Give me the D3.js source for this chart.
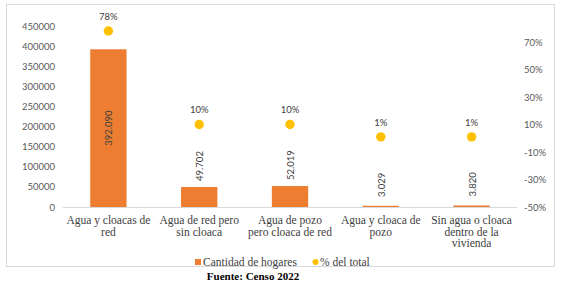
<!DOCTYPE html>
<html lang="es">
<head>
<meta charset="UTF-8">
<script src="https://d3js.org/d3.v7.min.js"></script>
<style>
  body { margin: 0; background: #fff; }
  svg { display: block; }
  .serif { font-family: "Liberation Serif", "Times New Roman", "DejaVu Serif", serif; }
</style>
</head>
<body>
<div id="chart"></div>
<script>
// data
const categories = [
  ["Agua y cloacas de", "red"],
  ["Agua de red pero", "sin cloaca"],
  ["Agua de pozo", "pero cloaca de red"],
  ["Agua y cloaca de", "pozo"],
  ["Sin agua o cloaca", "dentro de la", "vivienda"]
];
const hogares = [392090, 49702, 52019, 3029, 3820];
const hogaresLabels = ["392.090", "49.702", "52.019", "3.029", "3.820"];
const pctTotal = [0.78, 0.10, 0.10, 0.01, 0.01];
const pctLabels = ["78%", "10%", "10%", "1%", "1%"];
const leftTicks = [0, 50000, 100000, 150000, 200000, 250000, 300000, 350000, 400000, 450000];
const rightTicks = [-0.5, -0.3, -0.1, 0.1, 0.3, 0.5, 0.7];

const width = 563, height = 284;
const plot = { left: 63, right: 517, top: 26, bottom: 207 };

const svg = d3.select('#chart').append('svg')
  .attr('width', width).attr('height', height);

// chart border
svg.append('rect')
  .attr('x', 6.5).attr('y', 4.5)
  .attr('width', 548).attr('height', 262)
  .attr('fill', 'none').attr('stroke', '#d9d9d9');

const x = d3.scaleBand()
  .domain(d3.range(categories.length))
  .range([plot.left, plot.right])
  .paddingInner(0.6).paddingOuter(0.3);

const y = d3.scaleLinear().domain([0, 450000]).range([plot.bottom, plot.top]);
const y2 = d3.scaleLinear().domain([-0.5, 0.816]).range([plot.bottom, plot.top]);

const tickFont = 'Lato, "Open Sans", sans-serif';

// left axis
const yAxis = svg.append('g')
  .attr('transform', `translate(${plot.left},0)`)
  .call(d3.axisLeft(y).tickValues(leftTicks).tickSize(0).tickPadding(8).tickFormat(d3.format('d')));
yAxis.select('.domain').remove();
yAxis.selectAll('text').style('font-family', tickFont).style('font-size', '9.5px').attr('fill', '#595959');

// right axis
const y2Axis = svg.append('g')
  .attr('transform', `translate(${plot.right},0)`)
  .call(d3.axisRight(y2).tickValues(rightTicks).tickSize(0).tickPadding(7)
    .tickFormat(d => Math.round(d * 100) + '%'));
y2Axis.select('.domain').remove();
y2Axis.selectAll('text').style('font-family', tickFont).style('font-size', '9.5px').attr('fill', '#595959');

// baseline
svg.append('line')
  .attr('x1', plot.left).attr('x2', plot.right)
  .attr('y1', y(0) + 0.5).attr('y2', y(0) + 0.5)
  .attr('stroke', '#d9d9d9');

// bars
svg.selectAll('rect.bar')
  .data(hogares)
  .join('rect')
  .attr('class', 'bar')
  .attr('x', (d, i) => x(i))
  .attr('y', d => y(d))
  .attr('width', x.bandwidth())
  .attr('height', d => y(0) - y(d))
  .attr('fill', '#ED7D31');

// bar value labels (rotated)
svg.selectAll('text.val')
  .data(hogares)
  .join('text')
  .attr('class', 'val')
  .attr('transform', (d, i) => {
    const cx = x(i) + x.bandwidth() / 2;
    const cy = i === 0 ? (y(d) + y(0)) / 2 : y(d) - 21;
    return `translate(${cx + 4},${cy}) rotate(-90)`;
  })
  .attr('text-anchor', 'middle')
  .style('font-family', tickFont).style('font-size', '9.5px')
  .attr('fill', '#404040')
  .text((d, i) => hogaresLabels[i]);

// percent dots
svg.selectAll('circle.pct')
  .data(pctTotal)
  .join('circle')
  .attr('class', 'pct')
  .attr('cx', (d, i) => x(i) + x.bandwidth() / 2)
  .attr('cy', d => y2(d))
  .attr('r', 4.7)
  .attr('fill', '#FFC000');

svg.selectAll('text.pctl')
  .data(pctTotal)
  .join('text')
  .attr('class', 'pctl')
  .attr('x', (d, i) => x(i) + x.bandwidth() / 2)
  .attr('y', d => y2(d) - 11)
  .attr('text-anchor', 'middle')
  .style('font-family', tickFont).style('font-size', '9.5px')
  .attr('fill', '#404040')
  .text((d, i) => pctLabels[i]);

// category labels
const cat = svg.selectAll('text.cat')
  .data(categories)
  .join('text')
  .attr('class', 'cat serif')
  .attr('text-anchor', 'middle')
  .style('font-size', '11.5px')
  .attr('fill', '#404040');
cat.selectAll('tspan')
  .data((d, i) => d.map(s => ({ s, i })))
  .join('tspan')
  .attr('x', d => x(d.i) + x.bandwidth() / 2)
  .attr('y', (d, j) => 224 + j * 11.7)
  .text(d => d.s);

// legend
const legend = svg.append('g').attr('class', 'serif').style('font-size', '11.5px').attr('fill', '#404040');
legend.append('rect').attr('x', 195).attr('y', 259).attr('width', 6).attr('height', 6).attr('fill', '#ED7D31');
legend.append('text').attr('x', 203).attr('y', 266).text('Cantidad de hogares');
legend.append('circle').attr('cx', 315.5).attr('cy', 262).attr('r', 3).attr('fill', '#FFC000');
legend.append('text').attr('x', 320).attr('y', 266).text('% del total');

// source
svg.append('text')
  .attr('class', 'serif')
  .attr('x', 253).attr('y', 280)
  .attr('text-anchor', 'middle')
  .style('font-size', '11px').style('font-weight', 'bold')
  .attr('fill', '#000')
  .text('Fuente: Censo 2022');
</script>
</body>
</html>
